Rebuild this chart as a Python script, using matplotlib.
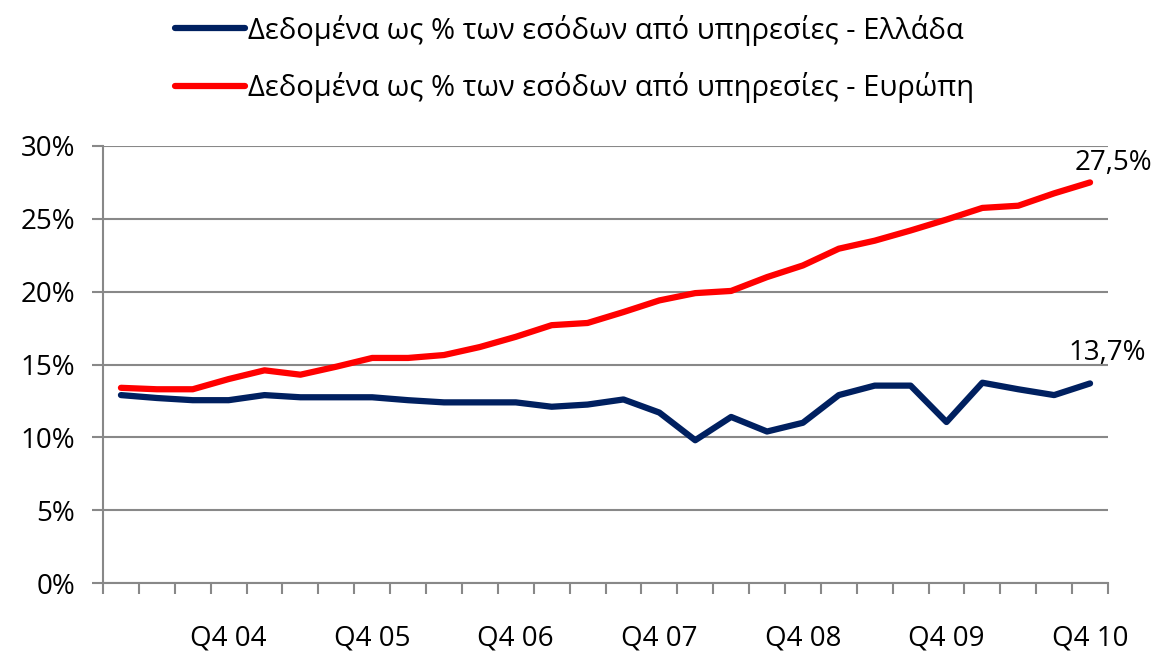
import numpy as np
import matplotlib
matplotlib.use("Agg")
import matplotlib.pyplot as plt

plt.rcParams['font.family'] = ['Open Sans', 'DejaVu Sans']

# dados trimestrais (Q1 04 ... Q4 10)
anos = ['04', '05', '06', '07', '08', '09', '10']
trimestres = [f'Q{q} {a}' for a in anos for q in range(1, 5)]

grecia = [12.9, 12.7, 12.55, 12.55, 12.9, 12.75, 12.75, 12.75, 12.55, 12.4,
          12.4, 12.4, 12.1, 12.25, 12.6, 11.7, 9.8, 11.4, 10.4, 11.0,
          12.9, 13.55, 13.55, 11.05, 13.75, 13.3, 12.9, 13.7]
europa = [13.4, 13.3, 13.3, 14.0, 14.6, 14.3, 14.85, 15.45, 15.45, 15.65,
          16.2, 16.9, 17.7, 17.85, 18.6, 19.4, 19.9, 20.05, 21.0, 21.8,
          22.95, 23.5, 24.2, 24.95, 25.75, 25.9, 26.75, 27.5]

nome_gr = 'Δεδομένα ως % των εσόδων από υπηρεσίες - Ελλάδα'
nome_eu = 'Δεδομένα ως % των εσόδων από υπηρεσίες - Ευρώπη'

cinza = '#888888'

fig = plt.figure(figsize=(11.58, 6.51), dpi=100)
ax = fig.add_axes([103/1158, 1 - 583/651, 1005/1158, 437/651])

x = np.arange(len(trimestres))
ax.plot(x, np.array(grecia) / 100, color='#002060', lw=4.5, solid_capstyle='round',
        solid_joinstyle='round', label=nome_gr)
ax.plot(x, np.array(europa) / 100, color='#ff0000', lw=4.5, solid_capstyle='round',
        solid_joinstyle='round', label=nome_eu)

# rótulos do último ponto
offsets = {'eu': (17, 9), 'gr': (12, 17)}
for chave, serie in (('eu', europa), ('gr', grecia)):
    v = serie[-1]
    ax.annotate(f'{v:.1f}%'.replace('.', ','), (x[-1], v / 100), xytext=offsets[chave],
                textcoords='offset points', ha='center', va='baseline', fontsize=20)

ax.set_xlim(-0.5, len(trimestres) - 0.5)
ax.set_ylim(0, 0.30)
ax.set_yticks(np.arange(0, 0.31, 0.05))
ax.set_yticklabels([f'{int(round(v*100))}%' for v in np.arange(0, 0.31, 0.05)], fontsize=20)
ax.grid(axis='y', color=cinza, lw=1.5)
ax.set_axisbelow(True)

# rótulos só nos Q4, marcas nas divisões
ax.set_xticks(x[3::4])
ax.set_xticklabels([trimestres[i] for i in x[3::4]], fontsize=20)
ax.set_xticks(np.arange(-0.5, len(trimestres)), minor=True)
ax.tick_params(axis='x', which='major', length=0, pad=30)
ax.tick_params(axis='x', which='minor', length=8, width=1.5, color=cinza)
ax.tick_params(axis='y', length=8, width=1.5, color=cinza, pad=12)

for lado in ('top', 'right'):
    ax.spines[lado].set_visible(False)
for lado in ('left', 'bottom'):
    ax.spines[lado].set_color(cinza)
    ax.spines[lado].set_linewidth(1.5)

fig.legend(loc='upper left', bbox_to_anchor=(149/1158, 1.018), frameon=False,
           fontsize=21, handlelength=2.4, handletextpad=0.1, labelspacing=0.92)

plt.savefig('out.png', dpi=100)
